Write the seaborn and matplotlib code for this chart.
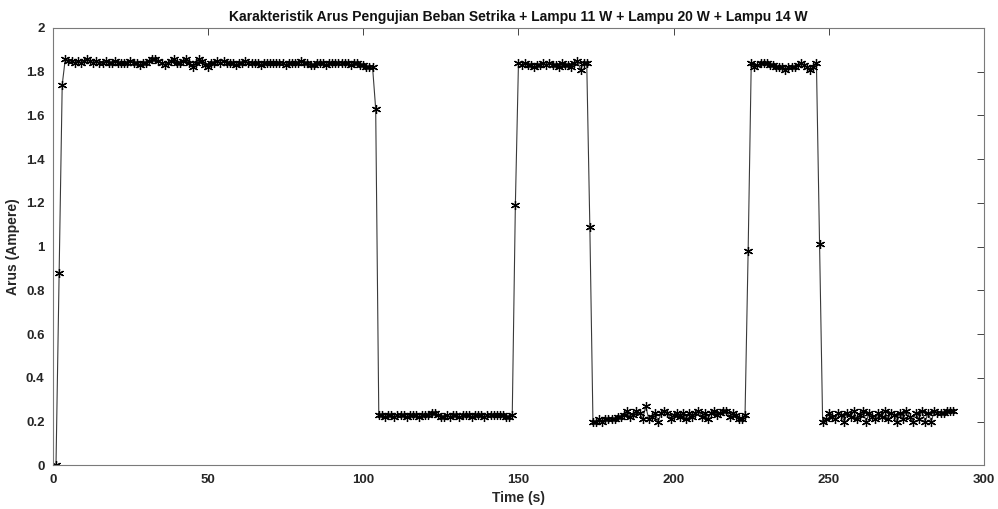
"""
Karakteristik arus: beban setrika + lampu 11 W + lampu 20 W + lampu 14 W.
"""

import numpy as np
import matplotlib
matplotlib.use('Agg')
import matplotlib.pyplot as plt
from matplotlib.ticker import FuncFormatter, MultipleLocator
import seaborn as sns
import pandas as pd

# Arus (Ampere), one sample per second starting at t = 1 s
naik_awal = [0.00, 0.88, 1.74]
tinggi_1 = [
    1.86, 1.85, 1.85, 1.84, 1.85, 1.84, 1.85, 1.86, 1.85, 1.84,
    1.85, 1.84, 1.84, 1.85, 1.84, 1.84, 1.85, 1.84, 1.84, 1.84,
    1.84, 1.85, 1.84, 1.84, 1.83, 1.84, 1.84, 1.85, 1.86, 1.86,
    1.85, 1.84, 1.83, 1.84, 1.85, 1.86, 1.84, 1.84, 1.85, 1.86,
    1.84, 1.82, 1.84, 1.86, 1.85, 1.83, 1.82, 1.84, 1.84, 1.85,
    1.84, 1.85, 1.84, 1.84, 1.84, 1.83, 1.84, 1.84, 1.85, 1.84,
    1.84, 1.84, 1.84, 1.83, 1.84, 1.84, 1.84, 1.84, 1.84, 1.84,
    1.84, 1.83, 1.84, 1.84, 1.84, 1.84, 1.85, 1.84, 1.84, 1.83,
    1.83, 1.84, 1.84, 1.84, 1.83, 1.84, 1.84, 1.84, 1.84, 1.84,
    1.84, 1.84, 1.83, 1.84, 1.84, 1.83, 1.83, 1.82, 1.82, 1.82,
]
turun_1 = [1.63]
rendah_1 = [
    0.23, 0.23, 0.22, 0.23, 0.23, 0.22, 0.23, 0.23, 0.23, 0.22,
    0.23, 0.23, 0.23, 0.22, 0.23, 0.23, 0.23, 0.24, 0.24, 0.23,
    0.22, 0.22, 0.23, 0.22, 0.23, 0.23, 0.22, 0.23, 0.23, 0.23,
    0.22, 0.23, 0.23, 0.23, 0.22, 0.23, 0.23, 0.23, 0.23, 0.23,
    0.23, 0.22, 0.22, 0.23,
]
naik_2 = [1.19]
tinggi_2 = [
    1.84, 1.83, 1.84, 1.83, 1.83, 1.82, 1.83, 1.83, 1.84, 1.83,
    1.84, 1.83, 1.83, 1.82, 1.84, 1.83, 1.83, 1.82, 1.84, 1.85,
    1.81, 1.84, 1.84,
]
turun_2 = [1.09]
rendah_2 = [
    0.20, 0.20, 0.21, 0.20, 0.21, 0.21, 0.21, 0.21, 0.22, 0.22,
    0.23, 0.25, 0.22, 0.23, 0.25, 0.24, 0.21, 0.27, 0.21, 0.22,
    0.24, 0.20, 0.24, 0.25, 0.24, 0.21, 0.23, 0.24, 0.22, 0.24,
    0.21, 0.24, 0.22, 0.24, 0.25, 0.22, 0.24, 0.21, 0.24, 0.25,
    0.23, 0.24, 0.25, 0.25, 0.22, 0.24, 0.23, 0.21, 0.21, 0.23,
]
naik_3 = [0.98]
tinggi_3 = [
    1.84, 1.82, 1.83, 1.84, 1.84, 1.84, 1.83, 1.83, 1.82, 1.82,
    1.82, 1.81, 1.82, 1.82, 1.82, 1.83, 1.84, 1.83, 1.82, 1.81,
    1.82, 1.84,
]
turun_3 = [1.01]
rendah_3 = [
    0.20, 0.21, 0.24, 0.22, 0.21, 0.24, 0.23, 0.20, 0.24, 0.22,
    0.25, 0.21, 0.23, 0.25, 0.20, 0.24, 0.22, 0.21, 0.24, 0.22,
    0.25, 0.21, 0.24, 0.23, 0.20, 0.24, 0.21, 0.25, 0.22, 0.20,
    0.24, 0.21, 0.25, 0.20, 0.24, 0.20, 0.25, 0.24, 0.24, 0.24,
    0.25, 0.25, 0.25,
]

arus = (naik_awal + tinggi_1 + turun_1 + rendah_1 + naik_2 + tinggi_2
        + turun_2 + rendah_2 + naik_3 + tinggi_3 + turun_3 + rendah_3)
waktu = np.arange(1, len(arus) + 1)

df = pd.DataFrame({'Time (s)': waktu, 'Arus (Ampere)': arus})

sns.set_theme(style='white')
plt.rcParams['font.family'] = ['Liberation Sans Narrow', 'Liberation Sans', 'DejaVu Sans']
plt.rcParams['font.weight'] = 'bold'

fig = plt.figure(figsize=(9.98, 5.09), dpi=100)
ax = fig.add_axes([0.053, 0.086, 0.933, 0.859])

# MATLAB-style '*' marker: asterisk with three strokes
sns.lineplot(data=df, x='Time (s)', y='Arus (Ampere)', ax=ax,
             color='#3a3a3a', linewidth=0.8, marker=(6, 2, 0), markersize=6.5,
             markerfacecolor='black', markeredgecolor='black',
             markeredgewidth=0.9)

ax.set_xlim(0, 300)
ax.set_ylim(0, 2)
ax.xaxis.set_major_locator(MultipleLocator(50))
ax.yaxis.set_major_locator(MultipleLocator(0.2))
ax.yaxis.set_major_formatter(FuncFormatter(lambda v, p: f'{v:g}'))

ax.tick_params(direction='in', length=5, width=0.6, colors='#262626',
               labelsize=9.5, top=True, right=True, pad=6)
for lbl in ax.get_xticklabels() + ax.get_yticklabels():
    lbl.set_fontweight('bold')
for s in ax.spines.values():
    s.set_color('#7a7a7a')
    s.set_linewidth(0.8)

ax.set_xlabel('Time (s)', fontsize=10, fontweight='bold', color='#262626')
ax.set_ylabel('Arus (Ampere)', fontsize=10, fontweight='bold', color='#262626')
ax.set_title('Karakteristik Arus Pengujian Beban Setrika + Lampu 11 W + Lampu 20 W + Lampu 14 W',
             fontsize=10, fontweight='bold', color='#111111', pad=5)

fig.savefig('out.png', dpi=100, facecolor='white')
